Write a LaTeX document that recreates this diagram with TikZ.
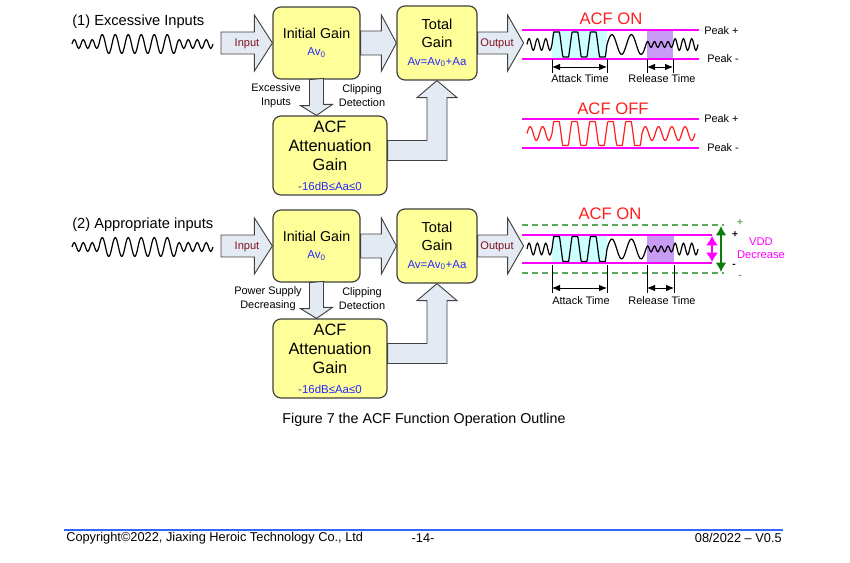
\documentclass[tikz,border=0pt]{standalone}
\usepackage{fontspec}
\setmainfont{Liberation Sans}
\usetikzlibrary{calc,arrows.meta}
\definecolor{boxfill}{RGB}{255,255,153}
\definecolor{boxedge}{RGB}{64,64,64}
\definecolor{arrfill}{RGB}{228,234,244}
\definecolor{lblred}{RGB}{128,20,30}
\definecolor{valblue}{RGB}{40,40,255}
\definecolor{acfred}{RGB}{255,30,30}
\definecolor{peakmag}{RGB}{255,0,255}
\definecolor{atkcyan}{RGB}{204,255,255}
\definecolor{relpurple}{RGB}{200,155,245}
\definecolor{vddgreen}{RGB}{90,170,90}
\definecolor{vddarrgreen}{RGB}{10,125,10}
\definecolor{footblue}{RGB}{51,102,255}
\newcommand{\valtxt}{\fontsize{8.6}{10}\selectfont\color{valblue}}
\tikzset{
  gainbox/.style={draw=boxedge, fill=boxfill, rounded corners=6pt, line width=0.9pt, align=center, inner sep=0pt},
  blockarr/.style={draw=boxedge, fill=arrfill, line width=0.7pt},
  wave/.style={line width=0.9pt, line join=round},
  peakline/.style={peakmag, line width=1.1pt},
  vddline/.style={vddgreen, line width=1pt, dash pattern=on 4.5pt off 3pt},
  dimarr/.style={<->, >={Latex[length=6pt,width=5pt]}, line width=0.7pt},
  magarr/.style={<->, >={Latex[length=7pt,width=9pt]}, peakmag, line width=1.2pt},
  grnarr/.style={<->, >={Latex[length=7pt,width=8pt]}, vddarrgreen, line width=1.2pt},
  titletxt/.style={font=\fontsize{11}{13}\selectfont, inner sep=0pt},
  smalltxt/.style={font=\fontsize{8.2}{10.5}\selectfont, align=center, inner sep=0pt},
  arrlbl/.style={font=\fontsize{8.3}{10}\selectfont, text=lblred, inner sep=0pt},
  acftitle/.style={font=\fontsize{12.5}{14}\selectfont, text=acfred, inner sep=0pt},
  signtxt/.style={font=\fontsize{7.5}{8}\selectfont\bfseries, inner sep=0pt},
  foottxt/.style={font=\fontsize{9.6}{11}\selectfont, inner sep=0pt}
}
\newcommand{\acfonwave}[1]{%
  \draw[wave] (527,#1)
    \foreach \i in {1,2,3} {sin ++(2.08,-6) cos ++(2.08,6) sin ++(2.08,6) cos ++(2.08,-6)}
    -- plot[domain=552:607, samples=120] (\x,{#1-12.5*max(-1,min(1,1.8*sin((\x-552)*19.637)))})
    \foreach \i in {1,2} {sin ++(4.875,-10) cos ++(4.875,10) sin ++(4.875,10) cos ++(4.875,-10)}
    \foreach \i in {1,...,4} {sin ++(1.69,-3) cos ++(1.69,3) sin ++(1.69,3) cos ++(1.69,-3)}
    \foreach \i in {1,2,3} {sin ++(2.08,-6) cos ++(2.08,6) sin ++(2.08,6) cos ++(2.08,-6)};}
\begin{document}
\begin{tikzpicture}[x=0.75pt,y=-0.75pt]
\useasboundingbox (0,0) rectangle (850,563);
\foreach \s/\dy/\ttl/\why/\wx in {1/0/{(1) Excessive Inputs}/{Excessive\\Inputs}/276, 2/203/{(2) Appropriate inputs}/{Power Supply\\Decreasing}/268}{
\begin{scope}[shift={(0,\dy)}]
\node[titletxt, anchor=west] (ttl\s) at (72,22) {\ttl};
\draw[wave] (72,44)
  \foreach \i in {1,2,3} {sin ++(2.25,-4.5) cos ++(2.25,4.5) sin ++(2.25,4.5) cos ++(2.25,-4.5)}
  \foreach \i in {1,...,6} {sin ++(3.25,-9.5) cos ++(3.25,9.5) sin ++(3.25,9.5) cos ++(3.25,-9.5)}
  \foreach \i in {1,...,4} {sin ++(2.25,-4.5) cos ++(2.25,4.5) sin ++(2.25,4.5) cos ++(2.25,-4.5)};
\node[gainbox, minimum width=65.25pt, minimum height=54pt, font=\fontsize{10.7}{12.75}\selectfont] (ini\s) at (316.5,43) {Initial Gain\\{\valtxt Av\textsubscript{0}}};
\node[gainbox, minimum width=60pt, minimum height=55.5pt, font=\fontsize{10.9}{13.5}\selectfont] (tot\s) at (437,43) {Total\\Gain\\{\valtxt Av=Av\textsubscript{0}+Aa}};
\node[gainbox, minimum width=85.5pt, minimum height=59.25pt, font=\fontsize{12.3}{14.5}\selectfont] (acf\s) at (330,155.5) {ACF\\Attenuation\\Gain\\{\valtxt -16dB≤Aa≤0}};
\coordinate (in\s) at (221,43);
\coordinate (out\s) at ($(tot\s.east)+(46,0)$);
\draw[blockarr] (ini\s.west) -- ++(-18,-28) -- ++(0,17) -| ($(in\s)+(0,11)$) -| ($(ini\s.west)+(-18,28)$) -- cycle;
\draw[blockarr] (tot\s.west) -- ++(-15,-28) -- ++(0,16) -| ($(ini\s.east)+(0,12)$) -| ($(tot\s.west)+(-15,28)$) -- cycle;
\draw[blockarr] (out\s) -- ++(-16,-28) -- ++(0,17) -| ($(tot\s.east)+(0,11)$) -| ($(out\s)+(-16,28)$) -- cycle;
\draw[blockarr] ($(ini\s.south)+(-7,0)$) -- ++(0,26) -- ++(-9,0) -- (ini\s.south |- acf\s.north) -- ++(16,-11) -- ++(-9,0) -- ++(0,-26) -- cycle;
\draw[blockarr] (tot\s.south) -- ++(20,17) -- ++(-10,0) |- ($(acf\s.east)+(0,5)$) -- ++(0,-20) -| ($(tot\s.south)+(-10,17)$) -- ++(-10,0) -- cycle;
\node[arrlbl] (inl\s) at (247,44) {Input};
\node[arrlbl] (outl\s) at (497,44) {Output};
\node[smalltxt] (why\s) at (\wx,96) {\why};
\node[smalltxt] (clip\s) at (362,96) {Clipping\\Detection};
\end{scope}}
% ACF ON / OFF, excessive inputs
\node[acftitle] (on1) at (611,19) {ACF ON};
\fill[atkcyan] (552,31) rectangle (607,58);
\fill[relpurple] (647,31) rectangle (673,58);
\draw[peakline] (522,30) -- (699,30);
\draw[peakline] (522,59) -- (699,59);
\node[smalltxt, anchor=west] (pp1) at (704,31) {Peak +};
\node[smalltxt, anchor=west] (pm1) at (707,59) {Peak -};
\acfonwave{44.5}
\foreach \xa/\xb/\xt/\nm/\txt in {552/607/580/atk1/Attack Time, 647/673/662/rel1/Release Time}{
  \draw[line width=0.7pt] (\xa,59) -- (\xa,73) (\xb,59) -- (\xb,73);
  \draw[dimarr] (\xa,67) -- (\xb,67);
  \node[smalltxt] (\nm) at (\xt,79) {\txt};
}
\node[acftitle] (off1) at (613,109) {ACF OFF};
\draw[peakline] (522,119) -- (699,119);
\draw[peakline] (522,148) -- (699,148);
\node[smalltxt, anchor=west] (pp2) at (704,119) {Peak +};
\node[smalltxt, anchor=west] (pm2) at (707,148) {Peak -};
\draw[wave, acfred] (527,133.5)
  \foreach \i in {1,2} {sin ++(3.125,-7) cos ++(3.125,7) sin ++(3.125,7) cos ++(3.125,-7)}
  -- plot[domain=552:642, samples=160] (\x,{133.5-12*max(-1,min(1,1.8*sin((\x-552)*20)))})
  \foreach \i in {1,...,4} {sin ++(3.3125,-7) cos ++(3.3125,7) sin ++(3.3125,7) cos ++(3.3125,-7)};
% ACF ON, appropriate inputs
\node[acftitle] (on2) at (610,214) {ACF ON};
\fill[atkcyan] (552,236) rectangle (607,263);
\fill[relpurple] (647,236) rectangle (674,263);
\draw[vddline] (522,225) -- (724,225);
\draw[vddline] (522,273) -- (724,273);
\draw[peakline] (522,235) -- (712,235);
\draw[peakline] (522,263) -- (712,263);
\acfonwave{249}
\draw[magarr] (712,236) -- (712,262);
\draw[grnarr] (721,226) -- (721,272);
\node[signtxt, text=vddgreen] (gp) at (740,223) {+};
\node[signtxt] (bp) at (735,235) {+};
\node[signtxt] (bm) at (734,266) {-};
\node[signtxt, text=vddgreen] (gm) at (740,277) {-};
\node[smalltxt, text=peakmag, font=\fontsize{8.4}{9.75}\selectfont] (vdd) at (761,248.5) {VDD\\Decrease};
\foreach \xa/\xb/\xt/\nm/\txt in {552/607/581/atk2/Attack Time, 647/674/662/rel2/Release Time}{
  \draw[line width=0.7pt] (\xa,265) -- (\xa,293) (\xb,265) -- (\xb,293);
  \draw[dimarr] (\xa,288) -- (\xb,288);
  \node[smalltxt] (\nm) at (\xt,301) {\txt};
}
\node[font=\fontsize{10.7}{12}\selectfont, inner sep=0pt] (cap) at (424,420) {Figure 7 the ACF Function Operation Outline};
\draw[footblue, line width=1.5pt] (64,529.5) -- (783,529.5);
\node[foottxt, anchor=west] (copy) at (66,538) {Copyright©2022, Jiaxing Heroic Technology Co., Ltd};
\node[foottxt] (page) at (423,538) {-14-};
\node[foottxt, anchor=east] (ver) at (782,538) {08/2022 – V0.5};
\end{tikzpicture}
\end{document}
